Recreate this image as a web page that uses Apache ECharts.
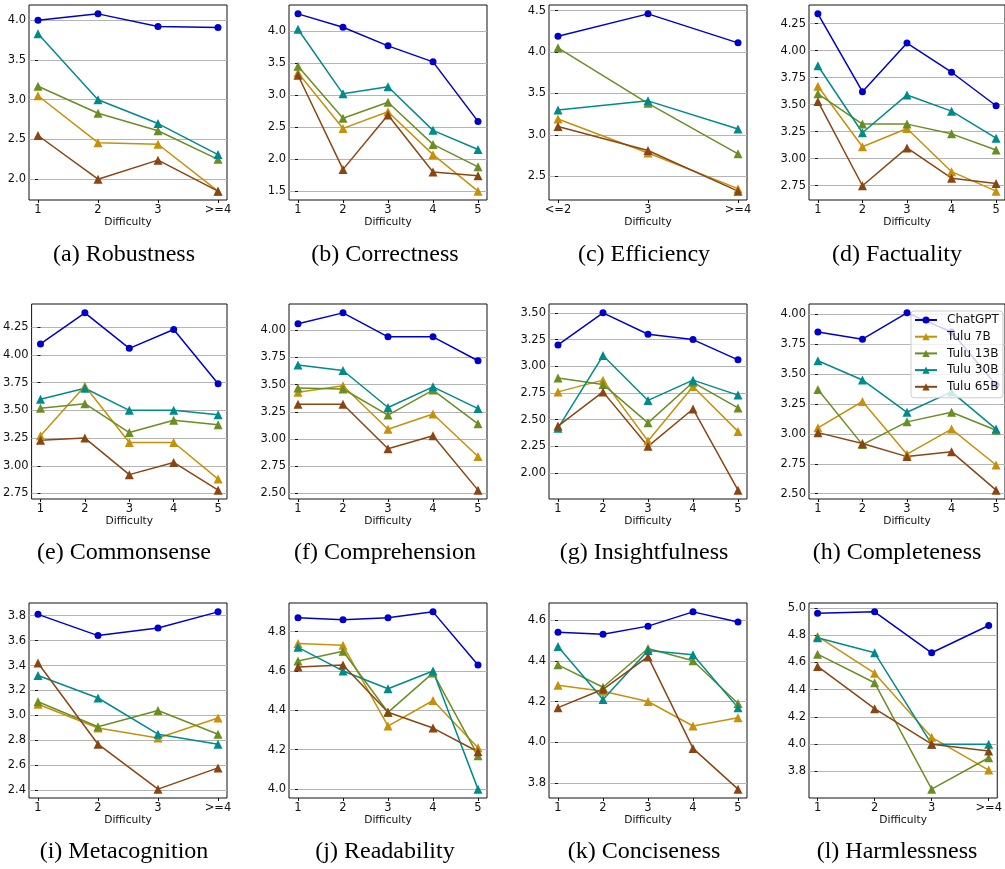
<!DOCTYPE html>
<html><head><meta charset="utf-8">
<script src="https://cdn.jsdelivr.net/npm/echarts@6/dist/echarts.min.js"></script>
<style>html,body{margin:0;padding:0;background:#fff}#c{width:1005px;height:869px}</style>
</head><body><div id="c"></div>
<script>
// ---- data ----
const seriesNames = ['ChatGPT', 'Tulu 7B', 'Tulu 13B', 'Tulu 30B', 'Tulu 65B'];
const xLabels4 = ['1', '2', '3', '>=4'];
const xLabels5 = ['1', '2', '3', '4', '5'];
const xLabelsEff = ['<=2', '3', '>=4'];

// rows: ChatGPT, Tulu 7B, Tulu 13B, Tulu 30B, Tulu 65B
const robustness = [
  [4.00, 4.08, 3.92, 3.91],
  [3.05, 2.46, 2.44, 1.85],
  [3.17, 2.83, 2.61, 2.25],
  [3.83, 3.00, 2.70, 2.31],
  [2.55, 2.00, 2.24, 1.85]
];
const correctness = [
  [4.27, 4.06, 3.77, 3.52, 2.59],
  [3.35, 2.48, 2.74, 2.07, 1.50],
  [3.45, 2.64, 2.89, 2.23, 1.88],
  [4.03, 3.02, 3.13, 2.45, 2.15],
  [3.31, 1.84, 2.69, 1.80, 1.74]
];
const efficiency = [
  [4.19, 4.46, 4.11],
  [3.19, 2.78, 2.35],
  [4.05, 3.38, 2.77],
  [3.30, 3.41, 3.07],
  [3.10, 2.81, 2.32]
];
const factuality = [
  [4.34, 3.62, 4.07, 3.80, 3.49],
  [3.67, 3.11, 3.28, 2.88, 2.70],
  [3.60, 3.32, 3.32, 3.23, 3.08],
  [3.86, 3.24, 3.59, 3.44, 3.19],
  [3.53, 2.75, 3.10, 2.82, 2.77]
];
const commonsense = [
  [4.10, 4.38, 4.06, 4.23, 3.74],
  [3.27, 3.72, 3.21, 3.21, 2.88],
  [3.52, 3.56, 3.30, 3.41, 3.37],
  [3.60, 3.70, 3.50, 3.50, 3.46],
  [3.23, 3.25, 2.92, 3.03, 2.78]
];
const comprehension = [
  [4.06, 4.16, 3.94, 3.94, 3.72],
  [3.43, 3.49, 3.09, 3.23, 2.84],
  [3.47, 3.46, 3.22, 3.45, 3.14],
  [3.68, 3.63, 3.29, 3.48, 3.28],
  [3.32, 3.32, 2.91, 3.03, 2.53]
];
const insightfulness = [
  [3.20, 3.50, 3.30, 3.25, 3.06],
  [2.76, 2.87, 2.30, 2.81, 2.39],
  [2.89, 2.83, 2.47, 2.85, 2.61],
  [2.42, 3.10, 2.68, 2.87, 2.73],
  [2.44, 2.76, 2.25, 2.60, 1.84]
];
const completeness = [
  [3.85, 3.79, 4.01, 3.85, 3.41],
  [3.05, 3.27, 2.83, 3.04, 2.74],
  [3.37, 2.91, 3.10, 3.18, 3.03],
  [3.61, 3.45, 3.18, 3.35, 3.04],
  [3.01, 2.92, 2.81, 2.85, 2.53]
];
const metacognition = [
  [3.81, 3.64, 3.70, 3.83],
  [3.09, 2.90, 2.82, 2.98],
  [3.11, 2.91, 3.04, 2.85],
  [3.32, 3.14, 2.85, 2.77],
  [3.42, 2.77, 2.41, 2.58]
];
const readability = [
  [4.87, 4.86, 4.87, 4.90, 4.63],
  [4.74, 4.73, 4.32, 4.45, 4.21],
  [4.65, 4.70, 4.39, 4.59, 4.17],
  [4.72, 4.60, 4.51, 4.60, 4.00],
  [4.62, 4.63, 4.39, 4.31, 4.19]
];
const conciseness = [
  [4.54, 4.53, 4.57, 4.64, 4.59],
  [4.28, 4.25, 4.20, 4.08, 4.12],
  [4.38, 4.27, 4.46, 4.40, 4.19],
  [4.47, 4.21, 4.45, 4.43, 4.17],
  [4.17, 4.26, 4.42, 3.97, 3.77]
];
const harmlessness = [
  [4.96, 4.97, 4.67, 4.87],
  [4.79, 4.52, 4.05, 3.81],
  [4.66, 4.45, 3.67, 3.90],
  [4.78, 4.67, 4.00, 4.00],
  [4.57, 4.26, 4.00, 3.95]
];

const ticksA = [2.0, 2.5, 3.0, 3.5, 4.0];
const ticksB = [1.5, 2.0, 2.5, 3.0, 3.5, 4.0];
const ticksC = [2.5, 3.0, 3.5, 4.0, 4.5];
const ticksD = [2.75, 3.00, 3.25, 3.50, 3.75, 4.00, 4.25];
const ticksE = [2.75, 3.00, 3.25, 3.50, 3.75, 4.00, 4.25];
const ticksF = [2.50, 2.75, 3.00, 3.25, 3.50, 3.75, 4.00];
const ticksG = [2.00, 2.25, 2.50, 2.75, 3.00, 3.25, 3.50];
const ticksH = [2.50, 2.75, 3.00, 3.25, 3.50, 3.75, 4.00];
const ticksI = [2.4, 2.6, 2.8, 3.0, 3.2, 3.4, 3.6, 3.8];
const ticksJ = [4.0, 4.2, 4.4, 4.6, 4.8];
const ticksK = [3.8, 4.0, 4.2, 4.4, 4.6];
const ticksL = [3.8, 4.0, 4.2, 4.4, 4.6, 4.8, 5.0];

const captions = ['(a) Robustness', '(b) Correctness', '(c) Efficiency', '(d) Factuality',
  '(e) Commonsense', '(f) Comprehension', '(g) Insightfulness', '(h) Completeness',
  '(i) Metacognition', '(j) Readability', '(k) Conciseness', '(l) Harmlessness'];

const panels = [
  [robustness, xLabels4, ticksA, 1], [correctness, xLabels5, ticksB, 1],
  [efficiency, xLabelsEff, ticksC, 1], [factuality, xLabels5, ticksD, 2],
  [commonsense, xLabels5, ticksE, 2], [comprehension, xLabels5, ticksF, 2],
  [insightfulness, xLabels5, ticksG, 2], [completeness, xLabels5, ticksH, 2],
  [metacognition, xLabels4, ticksI, 1], [readability, xLabels5, ticksJ, 1],
  [conciseness, xLabels5, ticksK, 1], [harmlessness, xLabels4, ticksL, 1]
];

// ---- style / layout ----
const colors = ['#0000cd', '#c8900a', '#6b8e23', '#008b8b', '#8b4513'];
const colLeft = [29, 289, 549, 809];
const rowTop = [5, 304, 603];
const plotW = 198, plotH = 195;
const capX = [124, 385, 644, 897];
const capY = [255, 553, 852];
const sans = 'DejaVu Sans';

const grids = [], xAxes = [], yAxes = [], series = [], graphics = [];
panels.forEach((p, i) => {
  const [data, xl, ticks, dec] = p;
  const r = Math.floor(i / 4), c = i % 4;
  grids.push({left: colLeft[c], top: rowTop[r], width: plotW, height: plotH,
    show: true, borderColor: '#111', borderWidth: 1, backgroundColor: 'transparent'});
  const n = xl.length;
  const xv = xl.map((_, j) => j);
  xAxes.push({type: 'value', gridIndex: i, min: -0.05 * (n - 1), max: (n - 1) * 1.05,
    axisLine: {show: false}, splitLine: {show: false},
    axisTick: {show: true, customValues: xv, length: 3, lineStyle: {color: '#111'}},
    axisLabel: {customValues: xv, formatter: v => xl[Math.round(v)], fontSize: 11.5,
      fontFamily: sans, color: '#111', margin: 4},
    name: 'Difficulty', nameLocation: 'middle', nameGap: 16,
    nameTextStyle: {fontSize: 10.7, fontFamily: sans, color: '#111'}});
  let lo = Infinity, hi = -Infinity;
  data.forEach(row => row.forEach(v => { lo = Math.min(lo, v); hi = Math.max(hi, v); }));
  const pad = (hi - lo) * 0.05;
  yAxes.push({type: 'value', gridIndex: i, min: lo - pad, max: hi + pad,
    axisLine: {show: false},
    axisTick: {show: true, customValues: ticks, length: 3, lineStyle: {color: '#111'}},
    axisLabel: {customValues: ticks, formatter: v => v.toFixed(dec), fontSize: 11.5,
      fontFamily: sans, color: '#111', margin: 3},
    splitLine: {show: true, lineStyle: {color: '#b4b4b4', width: 1}}});
  data.forEach((vals, k) => {
    series.push({type: 'line', name: seriesNames[k], xAxisIndex: i, yAxisIndex: i,
      data: vals.map((v, j) => [j, v]),
      symbol: k === 0 ? 'circle' : 'triangle', symbolSize: k === 0 ? 7 : 9,
      showSymbol: true, animation: false,
      lineStyle: {color: colors[k], width: 1.5}, itemStyle: {color: colors[k]}});
  });
  graphics.push({type: 'text', x: capX[c], y: capY[r],
    style: {text: captions[i], font: '24px "Liberation Serif"', fill: '#000',
      textAlign: 'center', textVerticalAlign: 'middle'}});
});

const chart = echarts.init(document.getElementById('c'));
chart.setOption({
  animation: false,
  color: colors,
  grid: grids, xAxis: xAxes, yAxis: yAxes, series: series,
  legend: {data: seriesNames, orient: 'vertical', left: 911, top: 311,
    itemWidth: 22, itemHeight: 9, itemGap: 4.7,
    textStyle: {fontSize: 12, fontFamily: sans, color: '#111', padding: [0, 0, 0, 5]},
    backgroundColor: 'rgba(255,255,255,0.8)', borderColor: '#cccccc', borderWidth: 1,
    borderRadius: 3, padding: [3, 4, 5, 3]},
  graphic: graphics
});
</script></body></html>
